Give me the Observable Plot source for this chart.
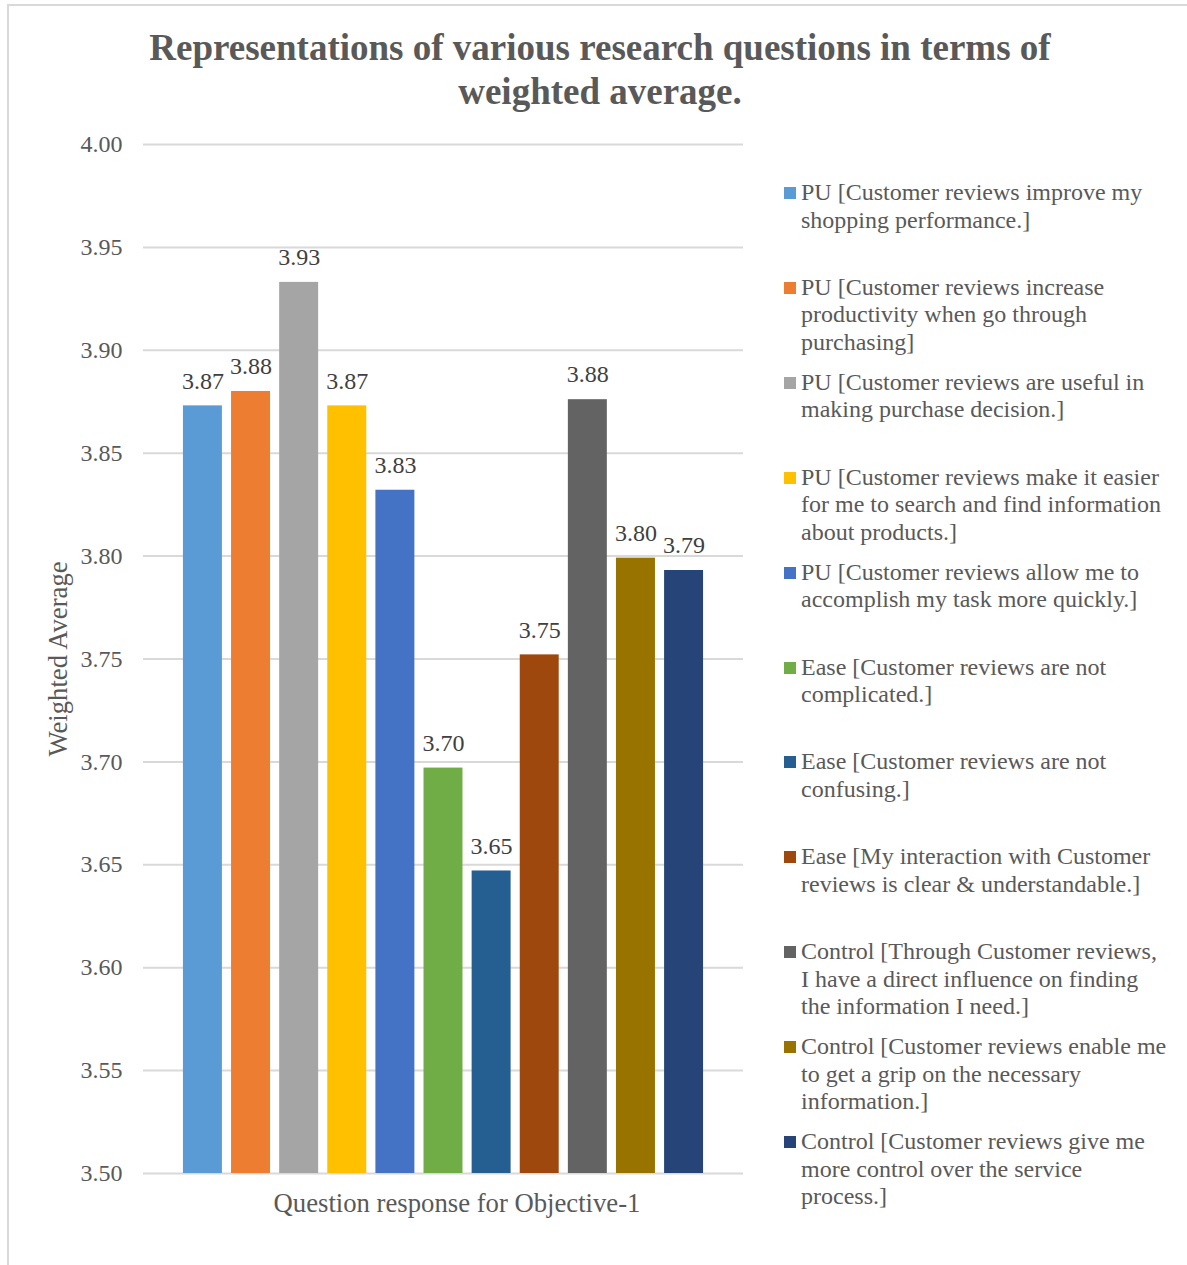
<!DOCTYPE html>
<html>
<head>
<meta charset="utf-8">
<script src="https://cdn.jsdelivr.net/npm/d3@7"></script>
<script src="https://cdn.jsdelivr.net/npm/@observablehq/plot@0.6"></script>
<style>
  html, body { margin: 0; padding: 0; background: #fff; }
  #page {
    position: relative; width: 1187px; height: 1265px; overflow: hidden;
    font-family: "Liberation Serif", "Times New Roman", serif; color: #595959; background: #fff;
  }
  #frame {
    position: absolute; left: 7px; top: 4px; width: 1200px; height: 1300px;
    border-top: 2px solid #d9d9d9; border-left: 2px solid #d9d9d9;
  }
  #title {
    position: absolute; left: 100px; top: 26px; width: 1000px;
    text-align: center; font-weight: bold; font-size: 37px; line-height: 44px; color: #595959;
  }
  #chart { position: absolute; left: 0; top: 124px; }
  #legend { position: absolute; left: 784px; top: 179px; }
  .item { position: absolute; left: 0; width: 400px; }
  .swatch { position: absolute; left: 0; top: 8px; width: 12px; height: 12px; }
  .label {
    position: absolute; left: 17px; font-size: 24px; line-height: 27.5px;
    white-space: pre; color: #595959;
  }
</style>
</head>
<body>
<div id="page">
  <div id="frame"></div>
  <div id="title">Representations of various research questions in terms of<br>weighted average.</div>
  <div id="chart"></div>
  <div id="legend"></div>
</div>
<script>
// Survey items (legend text, with its line breaks) and their weighted averages
const names = [
  "PU [Customer reviews improve my\nshopping performance.]",
  "PU [Customer reviews increase\nproductivity when go through\npurchasing]",
  "PU [Customer reviews are useful in\nmaking purchase decision.]",
  "PU [Customer reviews make it easier\nfor me to search and find information\nabout products.]",
  "PU [Customer reviews allow me to\naccomplish my task more quickly.]",
  "Ease [Customer reviews are not\ncomplicated.]",
  "Ease [Customer reviews are not\nconfusing.]",
  "Ease [My interaction with Customer\nreviews is clear & understandable.]",
  "Control [Through Customer reviews,\nI have a direct influence on finding\nthe information I need.]",
  "Control [Customer reviews enable me\nto get a grip on the necessary\ninformation.]",
  "Control [Customer reviews give me\nmore control over the service\nprocess.]"
];
const values = [3.873, 3.880, 3.933, 3.873, 3.832, 3.697, 3.647, 3.752, 3.876, 3.799, 3.793];
const colors = ["#5B9BD5", "#ED7D31", "#A5A5A5", "#FFC000", "#4472C4", "#70AD47",
                "#255E91", "#9E480E", "#636363", "#997300", "#264478"];
const yTicks = [3.50, 3.55, 3.60, 3.65, 3.70, 3.75, 3.80, 3.85, 3.90, 3.95, 4.00];
const yTitle = "Weighted Average";
const xTitle = "Question response for Objective-1";

const data = names.map((name, i) => ({name, value: values[i]}));
const serif = '"Liberation Serif", "Times New Roman", serif';

const chart = Plot.plot({
  width: 780,
  height: 1141,
  marginTop: 20,
  marginBottom: 92,
  marginLeft: 143,
  marginRight: 37,
  style: {fontFamily: serif, fontSize: "24px", color: "#595959", background: "transparent"},
  x: {domain: names, paddingInner: 0.19, paddingOuter: 0.83, round: false, axis: null},
  y: {domain: [yTicks[0], yTicks[yTicks.length - 1]], ticks: yTicks, tickFormat: d => d.toFixed(2),
      tickSize: 0, tickPadding: 21, label: null},
  color: {domain: names, range: colors},
  marks: [
    Plot.ruleY(yTicks, {stroke: "#d9d9d9", strokeWidth: 2}),
    Plot.barY(data, {x: "name", y1: yTicks[0], y2: "value", fill: "name"}),
    Plot.text(data, {x: "name", y: "value", text: d => d.value.toFixed(2), dy: -25,
                     fill: "#404040", fontSize: 24}),
    Plot.text([yTitle], {frameAnchor: "left", textAnchor: "middle", rotate: -90, dx: -85,
                         fontSize: 26.7, fill: "#595959"}),
    Plot.text([xTitle], {frameAnchor: "bottom", dx: 13.5, dy: 38, fontSize: 26.7, fill: "#595959"})
  ]
});
document.getElementById("chart").appendChild(chart);

// Legend: one swatch + wrapped label per item, evenly spaced
const legend = d3.select("#legend");
const items = legend.selectAll(".item").data(data).join("div")
  .attr("class", "item")
  .style("top", (d, i) => `${i * 94.9}px`);
items.append("div").attr("class", "swatch").style("background", (d, i) => colors[i]);
items.append("div").attr("class", "label").text(d => d.name);
</script>
</body>
</html>
